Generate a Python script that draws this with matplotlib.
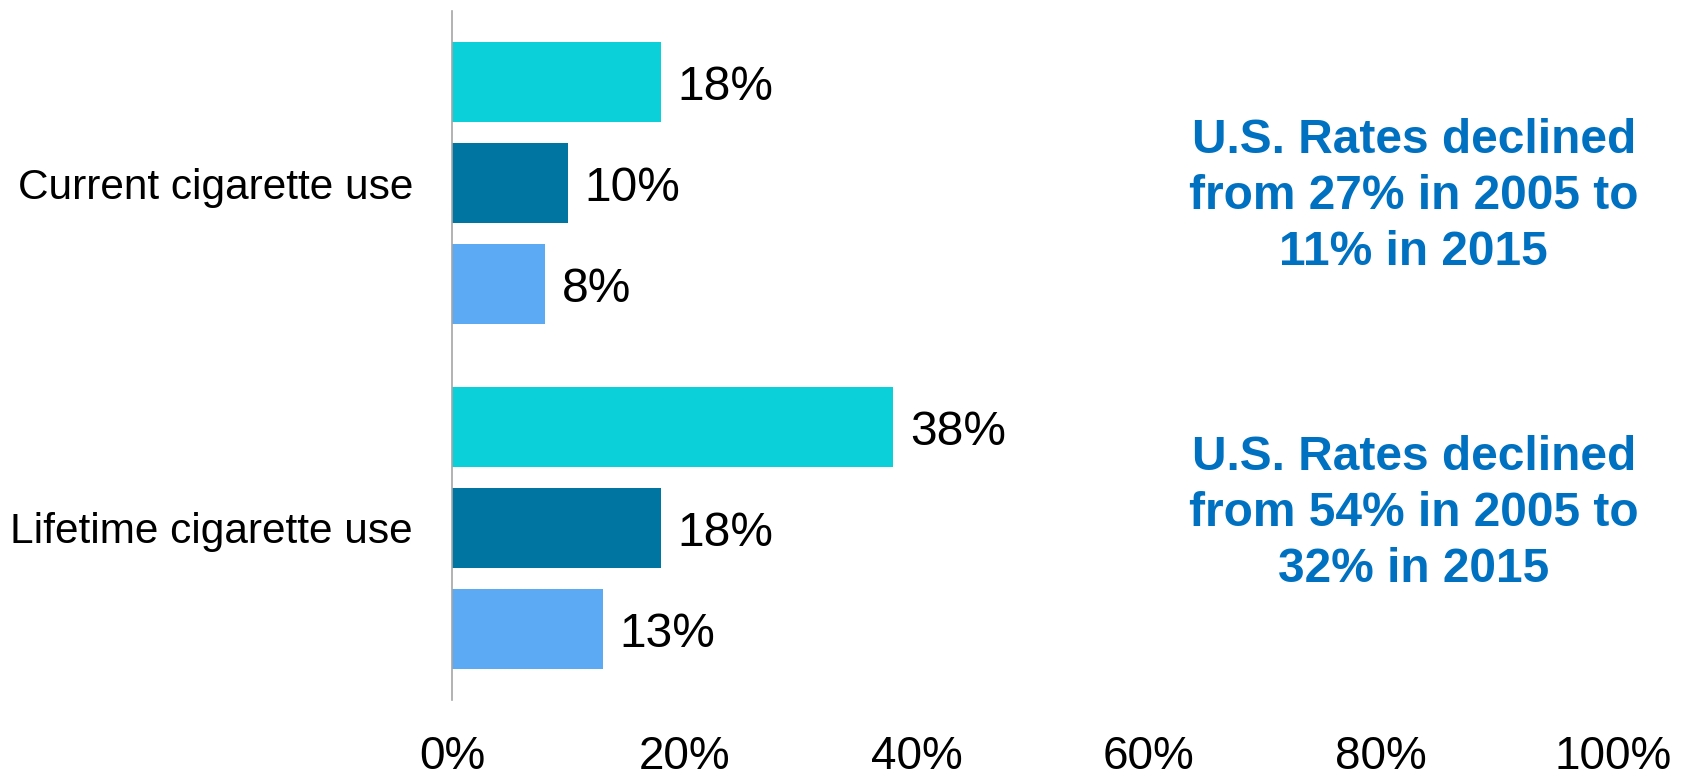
import matplotlib
matplotlib.use("Agg")
import matplotlib.pyplot as plt
import numpy as np

plt.rcParams['font.family'] = ['Liberation Sans', 'DejaVu Sans']

categories = ["Current cigarette use", "Lifetime cigarette use"]
# three series per category, top bar to bottom bar
series_top = [18, 38]
series_mid = [10, 18]
series_low = [8, 13]
colors = ["#0CD0D9", "#0075A2", "#5CAAF3"]
ticks = [0, 20, 40, 60, 80, 100]
notes = ["U.S. Rates declined\nfrom 27% in 2005 to\n11% in 2015",
         "U.S. Rates declined\nfrom 54% in 2005 to\n32% in 2015"]

fig = plt.figure(figsize=(16.91, 7.77), dpi=100)
ax = fig.add_axes([0.2673, 0.0991, 0.6866, 0.8867])

y = np.arange(len(categories))
step = 0.2936
height = 0.2326
for k, vals in enumerate([series_top, series_mid, series_low]):
    pos = y + (k - 1) * step
    ax.barh(pos, vals, height=height, color=colors[k])
    for p, v in zip(pos, vals):
        ax.annotate(f"{v}%", (v, p), xytext=(12, -4), textcoords="offset points",
                    ha='left', va='center', fontsize=34.5)

ax.set_ylim(1.5, -0.5)
ax.set_xlim(0, 100)
ax.set_yticks(y)
ax.set_yticklabels(categories, fontsize=30.5)
ax.set_xticks(ticks)
ax.set_xticklabels([f"{t}%" for t in ticks], fontsize=33)
ax.tick_params(axis='both', length=0)
ax.tick_params(axis='y', pad=28)
ax.tick_params(axis='x', pad=25)

for side in ["top", "right", "bottom"]:
    ax.spines[side].set_visible(False)
ax.spines["left"].set_color("#A6A6A6")
ax.spines["left"].set_linewidth(1.2)

fig.text(0.836, 0.747, notes[0], ha='center', va='center', fontsize=34.5,
         fontweight='bold', color="#0070C0", linespacing=1.31)
fig.text(0.836, 0.3395, notes[1], ha='center', va='center', fontsize=34.5,
         fontweight='bold', color="#0070C0", linespacing=1.31)

fig.savefig("out.png", dpi=100)
